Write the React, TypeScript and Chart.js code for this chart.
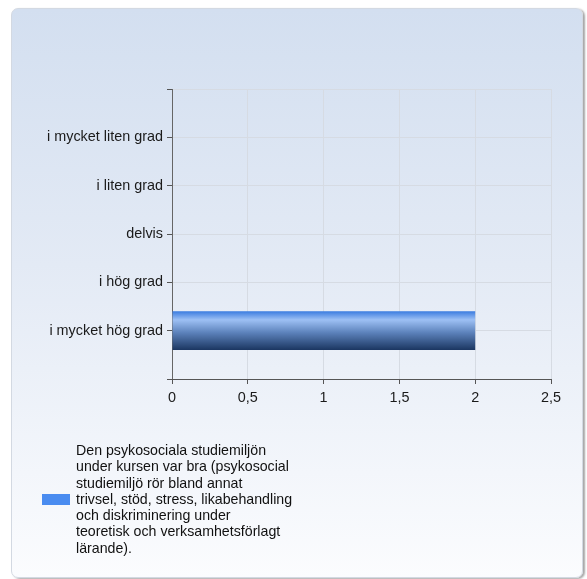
import React, { useEffect, useRef } from "react";
import { Chart, registerables } from "chart.js";

Chart.register(...registerables);

// ---- data ----
const categories = [
  "i mycket liten grad",
  "i liten grad",
  "delvis",
  "i hög grad",
  "i mycket hög grad",
];
const seriesValues = [0, 0, 0, 0, 2];
const xTickValues = [0, 0.5, 1, 1.5, 2, 2.5];
const legendLines = [
  "Den psykosociala studiemiljön",
  "under kursen var bra (psykosocial",
  "studiemiljö rör bland annat",
  "trivsel, stöd, stress, likabehandling",
  "och diskriminering under",
  "teoretisk och verksamhetsförlagt",
  "lärande).",
];

const FONT = 'Arial, "Liberation Sans", sans-serif';
const FLAT_BLUE = "#4a8cf0";

export default function App() {
  const canvasRef = useRef<HTMLCanvasElement | null>(null);

  useEffect(() => {
    const canvas = canvasRef.current;
    if (!canvas) return;
    // pad categories with empty slots above and below (axis range)
    const labels = ["", ...categories, ""];
    const data = [null, ...seriesValues, null];

    const chart = new Chart(canvas, {
      type: "bar",
      data: {
        labels,
        datasets: [
          {
            label: legendLines.join(" "),
            data: data as any,
            borderWidth: 0,
            categoryPercentage: 0.8,
            barPercentage: 1,
            backgroundColor: (ctx: any) => {
              const c = ctx.chart;
              const ys = c.scales?.y;
              if (!ys || ctx.dataIndex === undefined) return FLAT_BLUE;
              const center = ys.getPixelForValue(ctx.dataIndex);
              const half =
                Math.abs(ys.getPixelForTick(1) - ys.getPixelForTick(0)) * 0.4;
              if (!isFinite(center) || !isFinite(half) || half <= 0) return FLAT_BLUE;
              const g = c.ctx.createLinearGradient(0, center - half, 0, center + half);
              g.addColorStop(0, "#3b7ce0");
              g.addColorStop(0.22, "#9dc0f4");
              g.addColorStop(0.55, "#5c82bb");
              g.addColorStop(1, "#1b3661");
              return g;
            },
          },
        ],
      },
      options: {
        indexAxis: "y",
        responsive: false,
        animation: false,
        devicePixelRatio: 1,
        layout: { padding: { left: 0, top: 89, right: 36, bottom: 170 } },
        plugins: {
          legend: { display: false },
          tooltip: { enabled: false },
        },
        scales: {
          y: {
            type: "category",
            offset: false,
            grid: {
              offset: false,
              color: "#d6dbe3",
              tickColor: "#555",
              tickLength: 5,
              drawTicks: true,
            },
            border: { color: "#666", width: 1 },
            ticks: {
              autoSkip: false,
              color: "#1a1a1a",
              padding: 4,
              font: { family: FONT, size: 14.4 },
            },
            afterFit: (s: any) => {
              s.width = 172;
            },
          },
          x: {
            type: "linear",
            min: xTickValues[0],
            max: xTickValues[xTickValues.length - 1],
            afterBuildTicks: (s: any) => {
              s.ticks = xTickValues.map((v) => ({ value: v }));
            },
            grid: {
              color: "#d6dbe3",
              tickColor: "#555",
              tickLength: 5,
              drawTicks: true,
            },
            border: { color: "#555", width: 1 },
            ticks: {
              color: "#1a1a1a",
              padding: 5,
              font: { family: FONT, size: 14.4 },
              callback: (v: any) => String(v).replace(".", ","),
            },
            afterFit: (s: any) => {
              s.height = 30;
            },
          },
        },
      },
    });
    // re-render so the gradient uses the laid-out scale
    chart.update();
    return () => chart.destroy();
  }, []);

  return (
    <div
      style={{
        position: "absolute",
        left: 0,
        top: 0,
        width: 587,
        height: 579,
        overflow: "hidden",
        background: "#fff",
      }}
    >
      <div
        style={{
          position: "absolute",
          left: 11,
          top: 8,
          width: 570,
          height: 568,
          borderRadius: 7,
          border: "1px solid #d3d9e2",
          background: "linear-gradient(to bottom, #d3dff0 0%, #e3eaf5 45%, #fbfcfe 100%)",
          boxShadow: "2px 1px 2px rgba(0,0,0,0.35)",
        }}
      />
      <canvas
        ref={canvasRef}
        width={587}
        height={579}
        style={{ position: "absolute", left: 0, top: 0, width: 587, height: 579 }}
      />
      <div
        style={{
          position: "absolute",
          left: 42,
          top: 494,
          width: 28,
          height: 11,
          background: FLAT_BLUE,
        }}
      />
      <div
        style={{
          position: "absolute",
          left: 76,
          top: 442,
          fontFamily: FONT,
          fontSize: 14.2,
          lineHeight: "16.3px",
          color: "#111",
          whiteSpace: "nowrap",
        }}
      >
        {legendLines.map((l, i) => (
          <div key={i}>{l}</div>
        ))}
      </div>
    </div>
  );
}
